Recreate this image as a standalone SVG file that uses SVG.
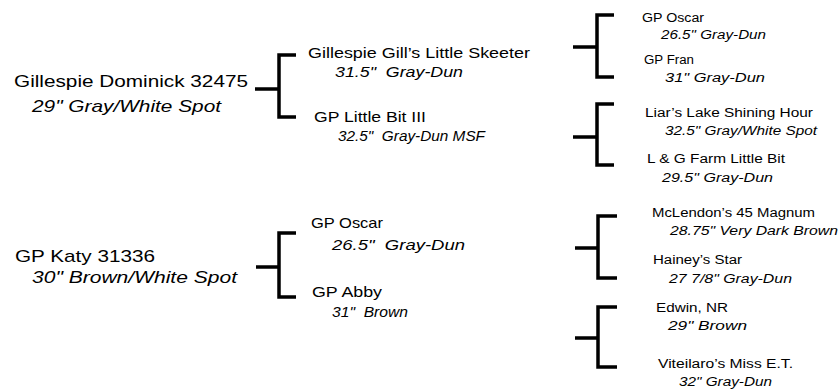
<svg xmlns="http://www.w3.org/2000/svg" width="839" height="389" viewBox="0 0 839 389">
<style>
text{font-family:"Liberation Sans",Arial,Helvetica,sans-serif;fill:#000;white-space:pre}
.l{font-size:17px}
.m{font-size:14.5px}
.s{font-size:12.5px}
.i{font-style:italic}
.br{fill:none;stroke:#000;stroke-width:3.5;stroke-linecap:butt;stroke-linejoin:miter}
</style>
<rect width="839" height="389" fill="#fff"/>
<g id="connectors">
<path class="br" d="M255,89H279M296,55H279V117H296"/>
<path class="br" d="M256,267H279M296,233H279V297H296"/>
<path class="br" d="M573,47H597M614,15H597V77H614"/>
<path class="br" d="M573,137H597M614,104H597V165H614"/>
<path class="br" d="M575,248H598M617,216H598V278H617"/>
<path class="br" d="M575,338H598M617,307H598V367H617"/>
</g>
<g id="sire">
<text class="l" x="14" y="87" textLength="234" lengthAdjust="spacingAndGlyphs">Gillespie Dominick 32475</text>
<text class="l i" x="32" y="112" textLength="189" lengthAdjust="spacingAndGlyphs">29" Gray/White Spot</text>
</g>
<g id="dam">
<text class="l" x="15" y="262" textLength="140" lengthAdjust="spacingAndGlyphs">GP Katy 31336</text>
<text class="l i" x="32" y="283" textLength="205" lengthAdjust="spacingAndGlyphs">30" Brown/White Spot</text>
</g>
<g id="sire-sire">
<text class="m" x="308" y="58" textLength="222" lengthAdjust="spacingAndGlyphs">Gillespie Gill’s Little Skeeter</text>
<text class="m i" x="335" y="77" textLength="128" lengthAdjust="spacingAndGlyphs" xml:space="preserve">31.5"  Gray-Dun</text>
</g>
<g id="sire-dam">
<text class="m" x="314" y="122" textLength="112" lengthAdjust="spacingAndGlyphs">GP Little Bit III</text>
<text class="m i" x="338" y="141" textLength="147" lengthAdjust="spacingAndGlyphs" xml:space="preserve">32.5"  Gray-Dun MSF</text>
</g>
<g id="dam-sire">
<text class="m" x="311" y="228" textLength="72" lengthAdjust="spacingAndGlyphs">GP Oscar</text>
<text class="m i" x="332" y="250" textLength="133" lengthAdjust="spacingAndGlyphs" xml:space="preserve">26.5"  Gray-Dun</text>
</g>
<g id="dam-dam">
<text class="m" x="312" y="297" textLength="70" lengthAdjust="spacingAndGlyphs">GP Abby</text>
<text class="m i" x="332" y="317" textLength="76" lengthAdjust="spacingAndGlyphs" xml:space="preserve">31"  Brown</text>
</g>
<g id="ss-sire">
<text class="s" x="642" y="22" textLength="62" lengthAdjust="spacingAndGlyphs">GP Oscar</text>
<text class="s i" x="661" y="39" textLength="105" lengthAdjust="spacingAndGlyphs">26.5" Gray-Dun</text>
</g>
<g id="ss-dam">
<text class="s" x="644" y="64" textLength="50" lengthAdjust="spacingAndGlyphs">GP Fran</text>
<text class="s i" x="665" y="82" textLength="100" lengthAdjust="spacingAndGlyphs">31" Gray-Dun</text>
</g>
<g id="sd-sire">
<text class="s" x="645" y="117" textLength="168" lengthAdjust="spacingAndGlyphs">Liar’s Lake Shining Hour</text>
<text class="s i" x="665" y="135" textLength="152" lengthAdjust="spacingAndGlyphs">32.5" Gray/White Spot</text>
</g>
<g id="sd-dam">
<text class="s" x="647" y="163" textLength="138" lengthAdjust="spacingAndGlyphs">L &amp; G Farm Little Bit</text>
<text class="s i" x="662" y="182" textLength="111" lengthAdjust="spacingAndGlyphs">29.5" Gray-Dun</text>
</g>
<g id="ds-sire">
<text class="s" x="652" y="217" textLength="163" lengthAdjust="spacingAndGlyphs">McLendon’s 45 Magnum</text>
<text class="s i" x="670" y="235" textLength="168" lengthAdjust="spacingAndGlyphs">28.75" Very Dark Brown</text>
</g>
<g id="ds-dam">
<text class="s" x="653" y="264" textLength="89" lengthAdjust="spacingAndGlyphs">Hainey’s Star</text>
<text class="s i" x="669" y="283" textLength="123" lengthAdjust="spacingAndGlyphs">27 7/8" Gray-Dun</text>
</g>
<g id="dd-sire">
<text class="s" x="656" y="312" textLength="72" lengthAdjust="spacingAndGlyphs">Edwin, NR</text>
<text class="s i" x="668" y="330" textLength="79" lengthAdjust="spacingAndGlyphs">29" Brown</text>
</g>
<g id="dd-dam">
<text class="s" x="658" y="368" textLength="135" lengthAdjust="spacingAndGlyphs">Viteilaro’s Miss E.T.</text>
<text class="s i" x="679" y="386" textLength="93" lengthAdjust="spacingAndGlyphs">32" Gray-Dun</text>
</g>
</svg>
